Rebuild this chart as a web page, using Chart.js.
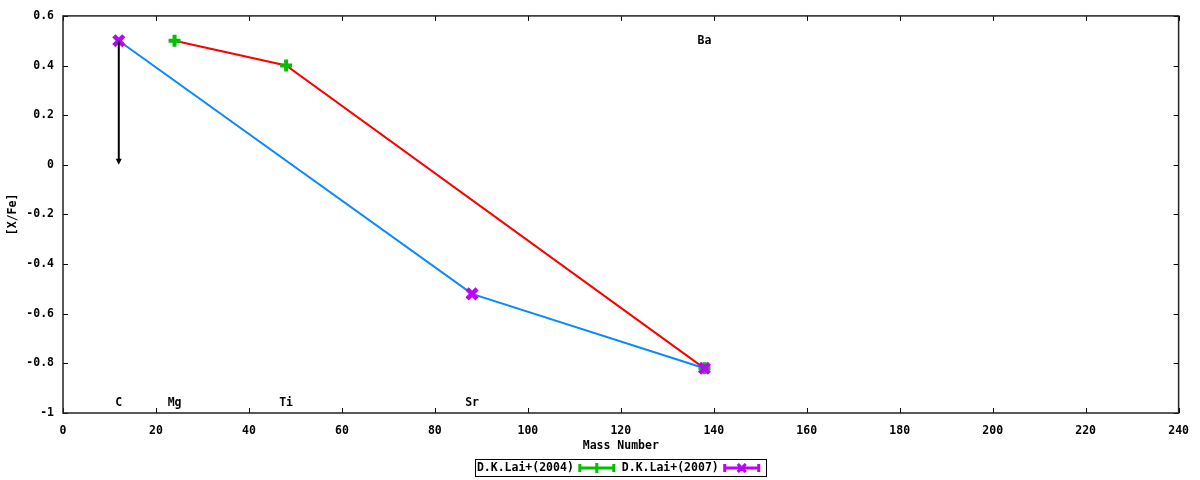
<!DOCTYPE html>
<html>
<head>
<meta charset="utf-8">
<script src="https://cdn.jsdelivr.net/npm/chart.js@4"></script>
<style>
  html, body { margin: 0; padding: 0; background: #fff; }
  #wrap { width: 1200px; height: 480px; }
</style>
</head>
<body>
<div id="wrap"><canvas id="myChart" width="1200" height="480"></canvas></div>
<script>
// data
const massLai2004 = [24, 48, 138];
const xfeLai2004 = [0.5, 0.4, -0.82];
const massLai2007 = [12, 88, 138];
const xfeLai2007 = [0.5, -0.52, -0.82];

// upper limit (arrow) for C
const limitMass = [12];
const limitFrom = [0.5];
const limitTo = [0];

// element labels
const elemNames = ['C', 'Mg', 'Ti', 'Sr', 'Ba'];
const elemMass = [12, 24, 48, 88, 138];
const elemY = [-0.96, -0.96, -0.96, -0.96, 0.5];

const xTicks = [0, 20, 40, 60, 80, 100, 120, 140, 160, 180, 200, 220, 240];
const yTicks = [0.6, 0.4, 0.2, 0, -0.2, -0.4, -0.6, -0.8, -1];

const FONT = 'bold 11.5px "DejaVu Sans Mono", monospace';

const toPts = (xs, ys) => xs.map((x, i) => ({ x: x, y: ys[i] }));

// ticks inward on all four sides, plus arrows, labels and legend
const gnuplotExtras = {
  id: 'gnuplotExtras',
  afterDatasetsDraw(chart) {
    const c = chart.ctx;
    const xs = chart.scales.x, ys = chart.scales.y;
    const a = chart.chartArea;
    c.save();

    // arrows
    c.strokeStyle = '#000';
    c.fillStyle = '#000';
    c.lineWidth = 2;
    limitMass.forEach((m, i) => {
      const px = xs.getPixelForValue(m);
      const y1 = ys.getPixelForValue(limitFrom[i]);
      const y2 = ys.getPixelForValue(limitTo[i]);
      c.beginPath();
      c.moveTo(px, y1);
      c.lineTo(px, y2 - 4);
      c.stroke();
      c.beginPath();
      c.moveTo(px - 3, y2 - 6);
      c.lineTo(px + 3, y2 - 6);
      c.lineTo(px, y2);
      c.closePath();
      c.fill();
    });

    // element names
    c.font = FONT;
    c.textAlign = 'center';
    c.textBaseline = 'middle';
    elemNames.forEach((n, i) => {
      c.fillText(n, xs.getPixelForValue(elemMass[i]), ys.getPixelForValue(elemY[i]));
    });

    // tick marks
    c.strokeStyle = '#000';
    c.lineWidth = 1;
    const tl = 5;
    xTicks.forEach(v => {
      const px = Math.round(xs.getPixelForValue(v)) + 0.5;
      c.beginPath();
      c.moveTo(px, a.bottom); c.lineTo(px, a.bottom - tl);
      c.moveTo(px, a.top); c.lineTo(px, a.top + tl);
      c.stroke();
    });
    yTicks.forEach(v => {
      const py = Math.round(ys.getPixelForValue(v)) + 0.5;
      c.beginPath();
      c.moveTo(a.left, py); c.lineTo(a.left + tl, py);
      c.moveTo(a.right, py); c.lineTo(a.right - tl, py);
      c.stroke();
    });

    // frame
    c.strokeStyle = '#222';
    c.lineWidth = 1.5;
    c.strokeRect(a.left, a.top, a.right - a.left, a.bottom - a.top);

    // legend: text then sample, gnuplot-like
    const ds = chart.data.datasets.filter(d => d.label);
    ds.sort((p, q) => p.legendIndex - q.legendIndex);
    const sampleW = 36, gap = 6;
    let total = 0;
    ds.forEach(d => { total += c.measureText(d.label).width + gap + sampleW + gap; });
    const cy = 468;
    let lx = (a.left + a.right) / 2 - total / 2;
    c.strokeStyle = '#000';
    c.lineWidth = 1;
    c.strokeRect(Math.round(lx) - 0.5, cy - 8.5, Math.round(total) + 1, 17);
    c.textAlign = 'left';
    ds.forEach(d => {
      c.fillStyle = '#000';
      c.fillText(d.label, lx + 1, cy);
      lx += c.measureText(d.label).width + gap;
      const col = d.pointBorderColor;
      c.strokeStyle = col;
      c.lineWidth = 3;
      c.beginPath();
      c.moveTo(lx, cy); c.lineTo(lx + sampleW, cy);
      c.moveTo(lx + 1, cy - 4); c.lineTo(lx + 1, cy + 4);
      c.moveTo(lx + sampleW - 1, cy - 4); c.lineTo(lx + sampleW - 1, cy + 4);
      const mx = lx + sampleW / 2;
      if (d.pointStyle === 'cross') {
        c.moveTo(mx, cy - 5); c.lineTo(mx, cy + 5);
      } else {
        c.moveTo(mx - 4, cy - 4); c.lineTo(mx + 4, cy + 4);
        c.moveTo(mx - 4, cy + 4); c.lineTo(mx + 4, cy - 4);
      }
      c.stroke();
      lx += sampleW + gap;
    });

    c.restore();
  }
};

const ctx = document.getElementById('myChart');
new Chart(ctx, {
  type: 'scatter',
  data: {
    datasets: [{
      label: 'D.K.Lai+(2007)',
      legendIndex: 1,
      data: toPts(massLai2007, xfeLai2007),
      showLine: true,
      borderColor: '#0a88ff',
      borderWidth: 2,
      pointStyle: 'crossRot',
      pointRadius: 7,
      pointBorderWidth: 4.5,
      pointBorderColor: '#c000ff',
      pointBackgroundColor: '#c000ff',
      order: 0
    }, {
      label: 'D.K.Lai+(2004)',
      legendIndex: 0,
      data: toPts(massLai2004, xfeLai2004),
      showLine: true,
      borderColor: '#ff0000',
      borderWidth: 2,
      pointStyle: 'cross',
      pointRadius: 6,
      pointBorderWidth: 4,
      pointBorderColor: '#00c000',
      pointBackgroundColor: '#00c000',
      order: 1
    }]
  },
  plugins: [gnuplotExtras],
  options: {
    responsive: false,
    animation: false,
    devicePixelRatio: 1,
    layout: { padding: { left: 0, right: 20, top: 8, bottom: 27 } },
    plugins: {
      legend: { display: false },
      tooltip: { enabled: false }
    },
    scales: {
      x: {
        type: 'linear',
        min: 0, max: 240,
        afterBuildTicks: s => { s.ticks = xTicks.map(v => ({ value: v })); },
        afterFit: s => { s.height = 40; },
        grid: { display: false, drawTicks: false },
        border: { display: false },
        ticks: {
          color: '#000',
          font: { family: '"DejaVu Sans Mono", monospace', size: 11.5, weight: 'bold' },
          padding: 11,
          maxRotation: 0,
          callback: v => String(v)
        },
        title: {
          display: true,
          text: 'Mass Number',
          color: '#000',
          font: { family: '"DejaVu Sans Mono", monospace', size: 11.5, weight: 'bold' },
          padding: { top: 2, bottom: 0 }
        }
      },
      y: {
        type: 'linear',
        min: -1, max: 0.6,
        afterBuildTicks: s => { s.ticks = yTicks.map(v => ({ value: v })); },
        afterFit: s => { s.width = 63; },
        grid: { display: false, drawTicks: false },
        border: { display: false },
        ticks: {
          color: '#000',
          font: { family: '"DejaVu Sans Mono", monospace', size: 11.5, weight: 'bold' },
          padding: 9,
          callback: v => (Math.round(v * 10) / 10).toString()
        },
        title: {
          display: true,
          text: '[X/Fe]',
          color: '#000',
          font: { family: '"DejaVu Sans Mono", monospace', size: 11.5, weight: 'bold' },
          padding: { top: 6, bottom: 0 }
        }
      }
    }
  }
});
</script>
</body>
</html>
